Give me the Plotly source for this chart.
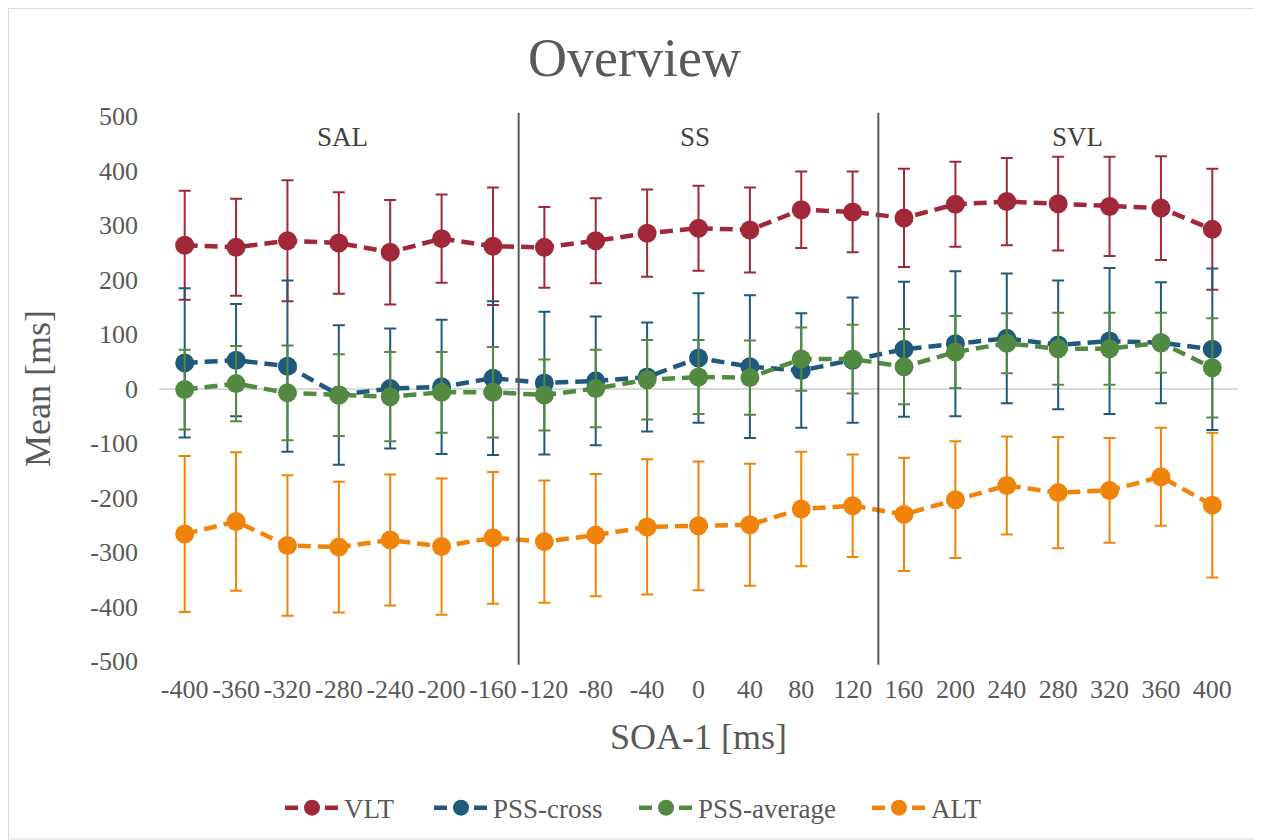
import plotly.graph_objects as go

soa = [-400, -360, -320, -280, -240, -200, -160, -120, -80, -40, 0, 40, 80, 120, 160, 200, 240, 280, 320, 360, 400]
tick_labels = [str(v) for v in soa]
y_ticks = [500, 400, 300, 200, 100, 0, -100, -200, -300, -400, -500]
y_tick_labels = [str(v) for v in y_ticks]

vlt = [263, 259, 271, 267, 250, 275, 261, 259, 271, 285, 294, 291, 328, 324, 313, 338, 343, 339, 334, 331, 292]
vlt_err = [100, 89, 111, 93, 96, 81, 108, 74, 78, 80, 78, 78, 70, 74, 90, 78, 80, 86, 91, 95, 111]

pss_cross = [47, 52, 41, -12, 0, 3, 19, 10, 14, 21, 56, 40, 33, 52, 72, 82, 92, 80, 87, 84, 72]
pss_cross_err = [137, 103, 157, 128, 110, 123, 141, 131, 118, 100, 119, 131, 105, 115, 124, 133, 119, 118, 134, 111, 148]

pss_avg = [-2, 9, -8, -12, -15, -7, -7, -12, 0, 16, 21, 20, 54, 54, 40, 67, 83, 73, 73, 84, 38]
pss_avg_err = [73, 69, 87, 75, 82, 74, 83, 65, 71, 73, 68, 68, 58, 63, 69, 66, 55, 66, 66, 55, 91]

alt = [-267, -244, -288, -291, -278, -290, -274, -281, -269, -254, -252, -250, -221, -215, -231, -204, -178, -191, -187, -162, -214]
alt_err = [143, 127, 129, 120, 120, 125, 121, 112, 112, 124, 118, 112, 105, 94, 104, 107, 90, 102, 96, 90, 133]

series = [
    ("VLT", vlt, vlt_err, "#A12838"),
    ("PSS-cross", pss_cross, pss_cross_err, "#1F5A7C"),
    ("PSS-average", pss_avg, pss_avg_err, "#538A41"),
    ("ALT", alt, alt_err, "#F0840A"),
]

sections = ["SAL", "SS", "SVL"]
section_x = [-277, -3, 295]
section_y = 462
separators = [-140, 140]

x_range = [-420, 420]
y_range = [-500, 500]

FONT = "Liberation Serif"
GRAY = "#595959"

W, H = 1253, 832
ML, MR, MT, MB = 151, 23, 108, 179
pw, ph = W - ML - MR, H - MT - MB

# left edges (figure px) of each legend entry
legend_left_px = [272, 421, 626, 859]
legend_names = ["legend", "legend2", "legend3", "legend4"]

fig = go.Figure()
for (name, vals, err, col), lg in zip(series, legend_names):
    fig.add_trace(go.Scatter(
        x=soa, y=vals, name=name, mode="lines+markers", legend=lg, showlegend=True,
        line=dict(color=col, width=4.5, dash="13px,7px"),
        marker=dict(color=col, size=19),
        error_y=dict(type="data", array=err, visible=True, color=col, thickness=2, width=6),
    ))

shapes = []
for s in separators:
    px = (s - x_range[0]) / (x_range[1] - x_range[0])
    shapes.append(dict(type="line", xref="paper", yref="paper", x0=px, x1=px,
                       y0=-0.007, y1=1.006, line=dict(color=GRAY, width=2)))
shapes.append(dict(type="rect", xref="paper", yref="paper",
                   x0=(0.5 - ML) / pw, x1=(W - 1 - ML) / pw,
                   y0=-(H - 1 - MT - ph) / ph, y1=(MT + ph - 0.5) / ph,
                   line=dict(color="#d9d9d9", width=1), layer="below"))

annotations = [dict(x=xv, y=section_y, text=t, showarrow=False, xref="x", yref="y",
                    font=dict(family=FONT, size=27, color="#404040"))
               for t, xv in zip(sections, section_x)]

legend_cfg = {}
for lg, lx in zip(legend_names, legend_left_px):
    legend_cfg[lg] = dict(orientation="h", x=(lx - ML) / pw, xanchor="left", y=-0.27, yanchor="middle",
                          font=dict(family=FONT, size=27, color=GRAY), itemwidth=54,
                          bgcolor="rgba(0,0,0,0)", visible=True)

fig.update_layout(
    width=W, height=H, showlegend=True,
    paper_bgcolor="white", plot_bgcolor="white",
    margin=dict(l=ML, r=MR, t=MT, b=MB, autoexpand=False),
    title=dict(text="Overview", x=0.5, xanchor="center", y=1 - 49 / H, yanchor="middle",
               font=dict(family=FONT, size=54, color=GRAY)),
    font=dict(family=FONT, color=GRAY),
    xaxis=dict(range=x_range, tickvals=soa, ticktext=tick_labels, showgrid=False,
               zeroline=False, showline=False, ticks="", ticklabelstandoff=10,
               tickfont=dict(family=FONT, size=26, color=GRAY),
               title=dict(text="SOA-1 [ms]", font=dict(family=FONT, size=36, color=GRAY), standoff=20)),
    yaxis=dict(range=y_range, tickvals=y_ticks, ticktext=y_tick_labels, showgrid=False,
               zeroline=True, zerolinecolor="#d9d9d9", zerolinewidth=2, showline=False, ticks="",
               ticklabelstandoff=20,
               tickfont=dict(family=FONT, size=26, color=GRAY),
               title=dict(text="Mean [ms]", font=dict(family=FONT, size=36, color=GRAY), standoff=28)),
    shapes=shapes,
    annotations=annotations,
    **legend_cfg,
)

fig.write_html("out.html")
